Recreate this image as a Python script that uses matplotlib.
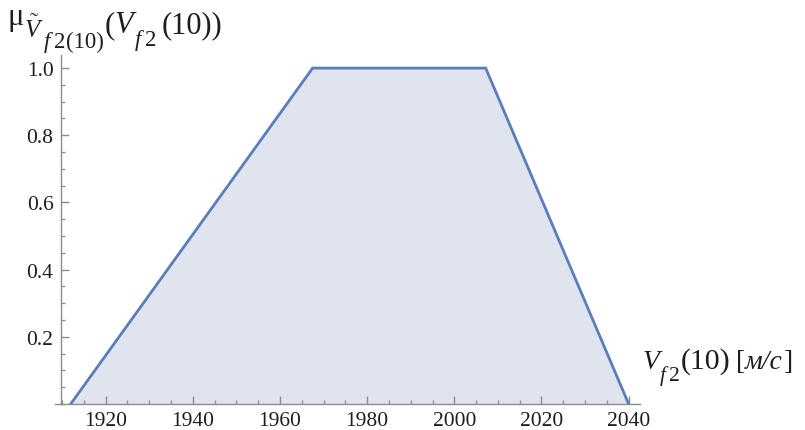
import matplotlib
matplotlib.use("Agg")
import matplotlib.pyplot as plt
from matplotlib.ticker import MultipleLocator

# Data: trapezoidal membership function
x_pts = [1912.0, 1967.5, 2007.2, 2040.0]
mu_pts = [0.0, 1.0, 1.0, 0.0]
x_ticks = [1920, 1940, 1960, 1980, 2000, 2020, 2040]
y_ticks = [0.2, 0.4, 0.6, 0.8, 1.0]

plt.rcParams['mathtext.fontset'] = 'custom'
plt.rcParams['mathtext.rm'] = 'Liberation Serif'
plt.rcParams['mathtext.it'] = 'Liberation Serif:italic'
plt.rcParams['mathtext.bf'] = 'Liberation Serif:bold'
plt.rcParams['font.family'] = ['Liberation Serif', 'DejaVu Serif']

W, H = 805, 431
fig = plt.figure(figsize=(W / 100, H / 100), dpi=100)
ax_left, ax_right = 55 / W, 640 / W
ax_bottom, ax_top = (H - 405) / H, (H - 56) / H
ax = fig.add_axes([ax_left, ax_bottom, ax_right - ax_left, ax_top - ax_bottom])

line_color = '#5B7DB8'
fill_color = '#DFE4EF'
axis_color = '#8C8C8C'
text_color = '#1E1E1E'

ax.fill_between(x_pts, mu_pts, 0, color=fill_color, lw=0, zorder=1)
ax.plot(x_pts, mu_pts, color=line_color, lw=2.0, zorder=3, solid_joinstyle='miter')

ax.set_xlim(1908.4, 2042.6)
ax.set_ylim(0, 1.039)

for s in ['top', 'right']:
    ax.spines[s].set_visible(False)
ax.spines['left'].set_position(('data', 1909.8))
ax.spines['bottom'].set_position(('data', 0))
for s in ['left', 'bottom']:
    ax.spines[s].set_color(axis_color)
    ax.spines[s].set_linewidth(1.0)

ax.set_xticks(x_ticks)
ax.set_yticks(y_ticks)
ax.set_yticklabels([f"{v:.1f}" for v in y_ticks])
ax.xaxis.set_minor_locator(MultipleLocator(5))
ax.yaxis.set_minor_locator(MultipleLocator(0.05))
ax.tick_params(axis='both', which='major', direction='in', length=5.5, width=1.0,
               color=axis_color, labelsize=15.5, labelcolor=text_color)
ax.tick_params(axis='both', which='minor', direction='in', length=3, width=0.9,
               color=axis_color)
ax.tick_params(axis='x', which='major', pad=5)
ax.tick_params(axis='y', which='major', pad=5.5)

renderer = fig.canvas.get_renderer()


def chain(x0, pieces):
    """Place text pieces one after another; pieces: (text, size, style, baseline_px, gap_px)."""
    x = x0
    for s, size, style, base, gap in pieces:
        x += gap
        t = fig.text(x / W, 1 - base / H, s, fontsize=size, fontstyle=style,
                     ha='left', va='baseline', color=text_color)
        bb = t.get_window_extent(renderer)
        x = bb.x1


# y-axis label: mu_{~V_{f2(10)}}(V_{f2}(10))
chain(7, [
    ("μ", 22, 'normal', 25, 0),
    (r"$\tilde{V}$", 18, 'normal', 38, 1),
    ("f", 16.5, 'italic', 48, 0),
    ("2", 16.5, 'normal', 48, 4),
    ("(10)", 16.5, 'normal', 48, 0),
    ("(", 22, 'normal', 33, 1),
    ("V", 22, 'italic', 33, 0),
    ("f", 16.5, 'italic', 46, 1),
    ("2", 16.5, 'normal', 46, 4),
    ("(10))", 22, 'normal', 33, 5),
])

# x-axis label: V_{f2}(10) [м/с]
chain(643, [
    ("V", 20, 'italic', 369, 0),
    ("f", 15.5, 'italic', 381, 0),
    ("2", 15.5, 'normal', 381, 3),
    ("(10)", 21.5, 'normal', 369, 1),
    ("[", 20, 'normal', 369, 5),
    ("м/с", 20, 'italic', 369, 0),
    ("]", 20, 'normal', 369, 1),
])

fig.savefig("out.png", dpi=100)
